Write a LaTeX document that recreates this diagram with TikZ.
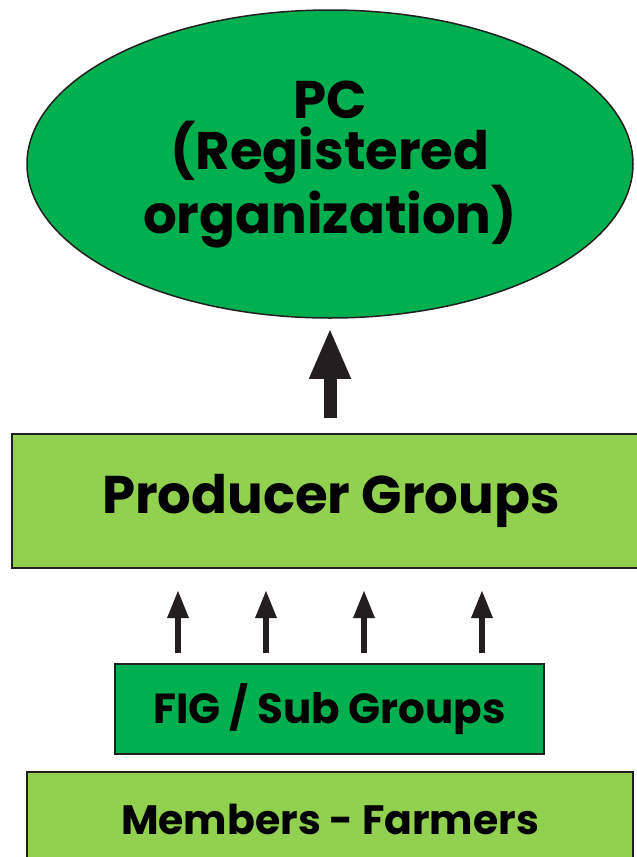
\documentclass[tikz,border=0pt]{standalone}
\usepackage{fontspec}
\setmainfont{Poppins}
\usetikzlibrary{shapes.geometric,arrows.meta}
\definecolor{darkgreen}{RGB}{0,176,80}
\definecolor{lightgreen}{RGB}{146,208,80}
\definecolor{edge}{RGB}{35,31,32}
\definecolor{ink}{RGB}{35,31,32}
\begin{document}
\begin{tikzpicture}[x=1pt,y=-1pt,
  box/.style={draw=edge,line width=2pt,rectangle,inner sep=0pt,align=center,font=\bfseries},
  bigarrow/.style={draw=ink,line width=13pt,-{Triangle[width=38pt,length=51pt,fill=ink]}},
  smallarrow/.style={draw=ink,line width=6pt,-{Triangle[width=20pt,length=28pt,fill=ink]}}]
\useasboundingbox (0,0) rectangle (637,857);
\clip (0,0) rectangle (637,857);
% top: the registered organization
\node[ellipse,draw=edge,line width=1.5pt,fill=darkgreen,minimum width=606pt,minimum height=308pt,
  inner sep=0pt,align=center,font=\fontsize{53}{51}\selectfont\bfseries] (pc) at (330,164)
  {PC\\(Registered\\organization)};
% producer groups band
\node[box,fill=lightgreen,minimum width=638pt,minimum height=134pt,
  font=\fontsize{53}{55}\selectfont\bfseries] (pg) at (331,501) {Producer Groups};
% FIG / sub groups
\node[box,fill=darkgreen,minimum width=429pt,minimum height=90pt,
  font=\fontsize{42}{44}\selectfont\bfseries] (fig) at (329.5,709) {FIG / Sub Groups};
% members
\node[box,fill=lightgreen,minimum width=606pt,minimum height=94pt,
  font=\fontsize{41}{43}\selectfont\bfseries] (mem) at (330,819) {Members - Farmers};
% arrows
\draw[bigarrow,shorten <=15pt,shorten >=9pt] (pc.south |- pg.north) -- (pc.south);
\foreach \x in {178,266,364,482}
  \draw[smallarrow,shorten <=10pt,shorten >=21pt] (\x,0 |- fig.north) -- (\x,0 |- pg.south);
\end{tikzpicture}
\end{document}
